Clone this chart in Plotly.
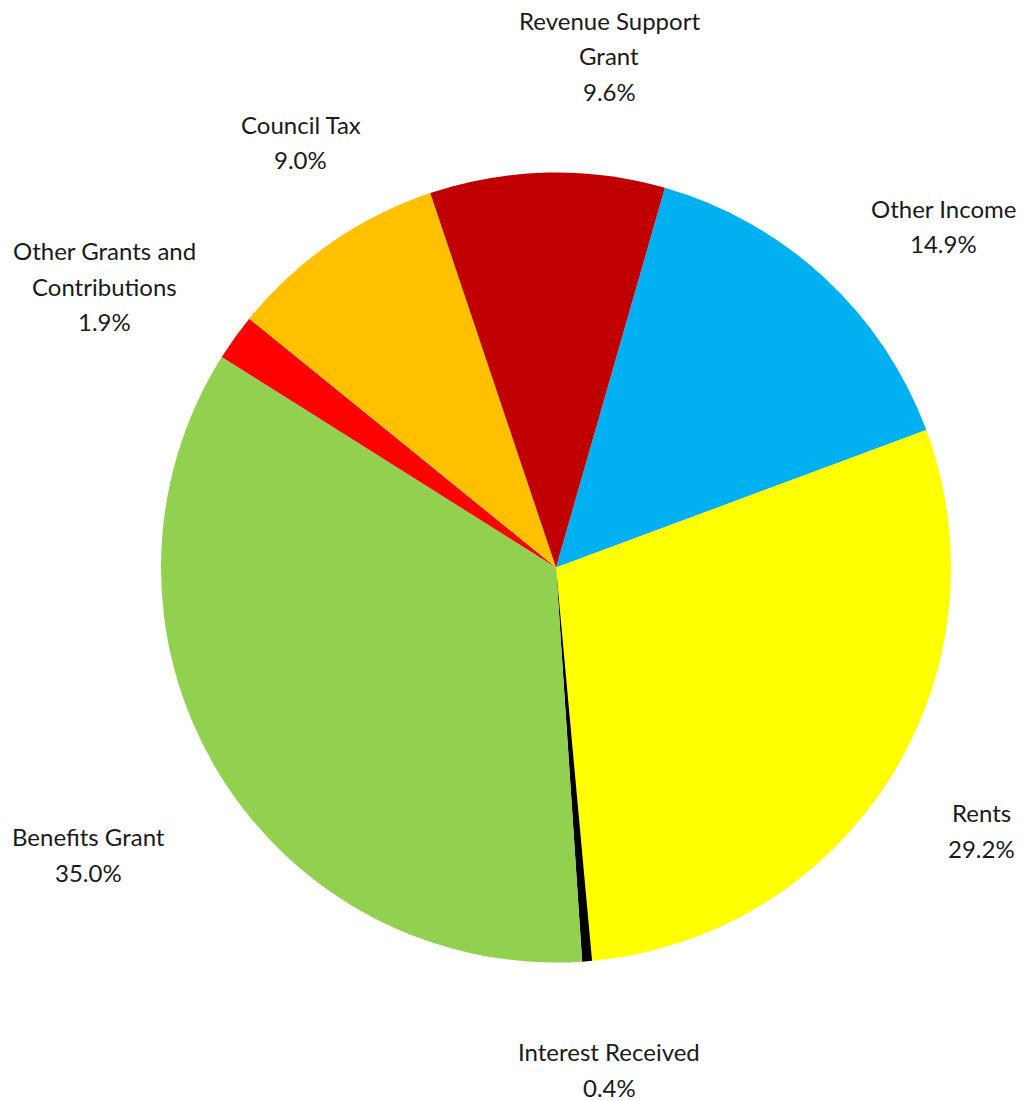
import plotly.graph_objects as go

# Income sources and their share of total income (%)
categories = [
    "Other Income",
    "Rents",
    "Interest Received",
    "Benefits Grant",
    "Other Grants and Contributions",
    "Council Tax",
    "Revenue Support Grant",
]
shares = [14.9, 29.2, 0.4, 35.0, 1.9, 9.0, 9.6]

# Label text as wrapped for display
label_lines = [
    ["Other Income"],
    ["Rents"],
    ["Interest Received"],
    ["Benefits Grant"],
    ["Other Grants and", "Contributions"],
    ["Council Tax"],
    ["Revenue Support", "Grant"],
]

slice_colors = ["#00B0F0", "#FFFF00", "#000000", "#92D050", "#FF0000", "#FFC000", "#C00000"]

W, H = 1022, 1101

# Label block centres in pixels from the top-left corner
label_pos = [
    (943, 226),
    (981, 830.5),
    (609, 1069.5),
    (88, 854.5),
    (104, 286),
    (300.5, 142),
    (609, 56),
]
line_step = 35.5

cx, cy, r = 556, 567.5, 395

fig = go.Figure(
    go.Pie(
        labels=categories,
        values=shares,
        sort=False,
        direction="clockwise",
        rotation=16,
        marker=dict(colors=slice_colors, line=dict(width=0)),
        textinfo="none",
        hoverinfo="label+percent",
        showlegend=False,
        domain=dict(
            x=[(cx - r) / W, (cx + r) / W],
            y=[(H - cy - r) / H, (H - cy + r) / H],
        ),
    )
)

annotations = []
for lines, val, (px, py) in zip(label_lines, shares, label_pos):
    rows = lines + [f"{val:.1f}%"]
    n = len(rows)
    for i, row in enumerate(rows):
        ypix = py + (i - (n - 1) / 2) * line_step
        annotations.append(
            dict(
                text=row,
                x=px / W,
                y=1 - ypix / H,
                xref="paper",
                yref="paper",
                xanchor="center",
                yanchor="middle",
                showarrow=False,
                font=dict(family="Lato", size=24, color="#1a1a1a"),
            )
        )

fig.update_layout(
    width=W,
    height=H,
    margin=dict(l=0, r=0, t=0, b=0),
    paper_bgcolor="white",
    plot_bgcolor="white",
    annotations=annotations,
)

fig.write_html("out.html")
